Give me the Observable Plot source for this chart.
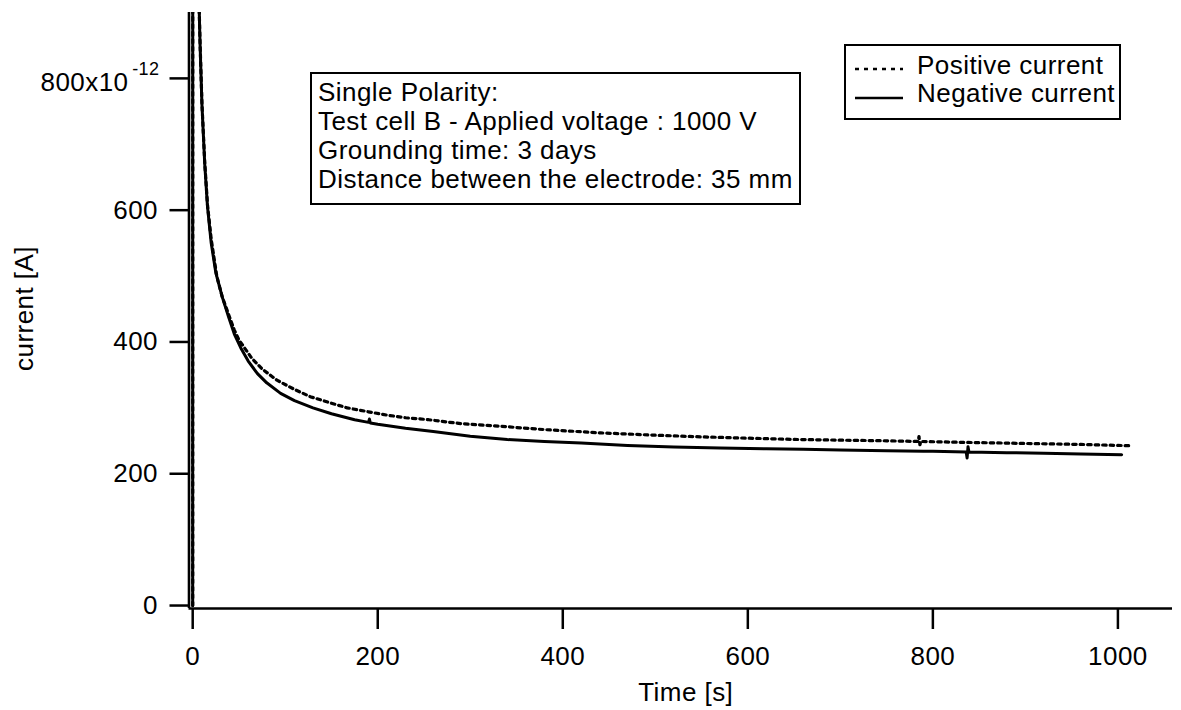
<!DOCTYPE html>
<html>
<head>
<meta charset="utf-8">
<script src="https://cdn.jsdelivr.net/npm/d3@7"></script>
<script src="https://cdn.jsdelivr.net/npm/@observablehq/plot@0.6"></script>
<style>
  html, body { margin: 0; padding: 0; background: #fff; }
  #wrap { position: relative; width: 1181px; height: 710px; font-family: "Liberation Sans", Arial, sans-serif; color: #000; }
  #wrap svg { display: block; }
  .box { position: absolute; box-sizing: border-box; border: 2px solid #000; background: #fff; font-size: 26px; line-height: 28.9px; white-space: nowrap; letter-spacing: 0.45px; }
  #note { left: 310px; top: 72px; width: 491px; height: 133px; padding: 4px 0 0 6px; }
  #legend { left: 844px; top: 44px; width: 277px; height: 76px; padding: 5px 0 0 0; line-height: 28.4px; }
  #legend .row { position: relative; height: 28.4px; padding-left: 71px; }
  #legend svg { position: absolute; left: 9px; top: 0; }
</style>
</head>
<body>
<div id="wrap">
  <div id="chart"></div>
  <div id="note" class="box"></div>
  <div id="legend" class="box"></div>
</div>
<script>
// ---- data (time in s, current in 10^-12 A) ----
const negTime = [0, 0.5, 3, 6, 7, 8, 10, 13, 16, 20, 25, 32, 39, 45, 52, 60, 70, 80, 95, 110, 130, 150, 175, 190, 191, 192, 200, 230, 260, 300, 340, 380, 420, 470, 520, 570, 620, 660, 700, 750, 790, 800, 836, 837, 838, 839, 880, 920, 960, 1004];
const negCurrent = [0, 9000, 2400, 1000, 905, 850, 760, 670, 605, 550, 505, 468, 437, 412, 391, 371, 352, 338, 322, 311, 300, 291, 282, 278, 283, 277, 275, 269, 264, 257, 252, 249, 246.5, 243, 240.5, 239, 238, 237, 236, 235, 234, 234, 233, 224, 241, 233, 232, 231, 230, 229];

const posTime = [0, 0.3, 3, 6, 7, 8, 10, 13, 16, 20, 26, 32, 39, 45, 50, 64, 75, 91, 110, 127, 150, 167, 190, 210, 230, 255, 290, 333, 380, 441, 500, 549, 600, 654, 700, 750, 784, 785, 786, 787, 838, 900, 960, 1013];
const posCurrent = [0, 9000, 2400, 1000, 905, 852, 762, 673, 608, 556, 500, 468, 441, 418, 403, 375, 359, 342, 328, 317, 307, 300, 294, 289, 285, 282, 276, 272, 267, 262, 258.5, 256, 254, 252, 251, 250, 249, 256.5, 244, 249, 247.5, 246, 244.5, 242.5];

const xDomain = [-4, 1059];
const yDomain = [-4.5, 900];
const xTicks = [0, 200, 400, 600, 800, 1000];
const yTicks = [0, 200, 400, 600];
const yTickLabels = ["0", "200", "400", "600"];
const yTopTick = [800];
const yTopLabel = "800x10";
const yTopExponent = "-12";
const xLabel = "Time [s]";
const yLabel = "current [A]";
const seriesNames = ["Positive current", "Negative current"];
const noteLines = ["Single Polarity:", "Test cell B - Applied voltage : 1000 V", "Grounding time: 3 days", "Distance between the electrode: 35 mm"];

// ---- build tables ----
const negData = negTime.map((t, i) => ({t, v: negCurrent[i]}));
const posData = posTime.map((t, i) => ({t, v: posCurrent[i]}));
const yLabelData = yTicks.map((v, i) => ({v, label: yTickLabels[i]}));

const FS = 26;
const LS = "0.45px";
const chart = Plot.plot({
  width: 1181,
  height: 710,
  marginLeft: 188.5,
  marginRight: 9,
  marginTop: 12,
  marginBottom: 102,
  style: {fontFamily: "'Liberation Sans', Arial, sans-serif", fontSize: FS + "px", color: "#000", background: "#fff", overflow: "visible", letterSpacing: LS},
  x: {domain: xDomain},
  y: {domain: yDomain},
  marks: [
    Plot.line(negData, {x: "t", y: "v", stroke: "#000", strokeWidth: 3, strokeLinejoin: "round", clip: true}),
    Plot.line(posData, {x: "t", y: "v", stroke: "#000", strokeWidth: 3.2, strokeDasharray: "3.5,4", clip: true}),
    Plot.axisX(xTicks, {tickSize: 21, tickPadding: 17, strokeWidth: 2.5, fontSize: FS, tickFormat: d => String(d), label: null}),
    Plot.axisY(yTicks.concat(yTopTick), {tickSize: 19, strokeWidth: 2.5, tickFormat: () => "", label: null}),
    Plot.text(yLabelData, {y: "v", text: "label", frameAnchor: "left", textAnchor: "end", dx: -31, fontSize: FS}),
    Plot.text(yTopTick, {y: d => d, text: () => yTopLabel, frameAnchor: "left", textAnchor: "end", dx: -60.5, dy: 4, fontSize: FS}),
    Plot.text(yTopTick, {y: d => d, text: () => yTopExponent, frameAnchor: "left", textAnchor: "end", dx: -29.5, dy: -9, fontSize: 18}),
    Plot.ruleX([xDomain[0]], {stroke: "#000", strokeWidth: 2.6}),
    Plot.ruleY([yDomain[0]], {stroke: "#000", strokeWidth: 2.6}),
    Plot.text([xLabel], {frameAnchor: "bottom", textAnchor: "middle", lineAnchor: "middle", dx: 5, dy: 84, fontSize: FS}),
    Plot.text([yLabel], {frameAnchor: "left", textAnchor: "middle", lineAnchor: "middle", rotate: -90, dx: -164.5, dy: -2, fontSize: FS})
  ]
});
document.getElementById("chart").appendChild(chart);

// annotation box
document.getElementById("note").innerHTML = noteLines.map(s => `<div>${s}</div>`).join("");

// legend
const dashes = ["4,5", null];
document.getElementById("legend").innerHTML = seriesNames.map((name, i) =>
  `<div class="row"><svg width="52" height="28"><line x1="0" x2="48" y1="${i === 0 ? 18 : 19}" y2="${i === 0 ? 18 : 19}" stroke="#000" stroke-width="2.6" ${dashes[i] ? `stroke-dasharray="${dashes[i]}"` : ""}/></svg>${name}</div>`
).join("");
</script>
</body>
</html>
